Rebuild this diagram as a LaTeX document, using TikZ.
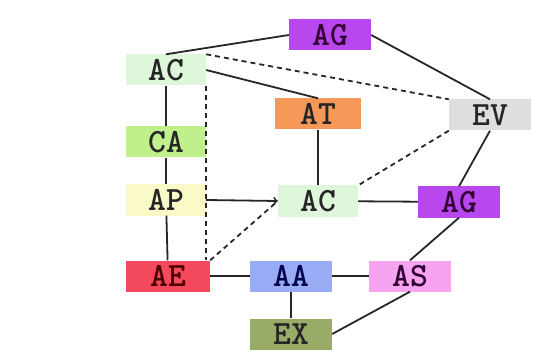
\documentclass[tikz,border=0pt]{standalone}
\usepackage{fontspec}
\setmainfont{Liberation Serif}
\usepackage{tikz}
\usetikzlibrary{positioning}

\definecolor{cViolet}{RGB}{184,72,238}
\definecolor{cPaleGreen}{RGB}{222,246,218}
\definecolor{cOrange}{RGB}{246,152,88}
\definecolor{cGrey}{RGB}{222,222,222}
\definecolor{cLime}{RGB}{192,240,140}
\definecolor{cCream}{RGB}{250,250,200}
\definecolor{cRed}{RGB}{244,72,92}
\definecolor{cBlue}{RGB}{152,172,246}
\definecolor{cPink}{RGB}{246,164,240}
\definecolor{cOlive}{RGB}{152,172,104}

\begin{document}
\begin{tikzpicture}[
    x=1pt, y=-1pt,
    font=\ttfamily\bfseries\fontsize{34}{34}\selectfont
]
\tikzset{
    box/.style = {rectangle, inner sep=0pt, minimum width=82pt, minimum height=31pt, text=black!85},
    link/.style = {-, line width=1.8pt, black!85},
    dlink/.style = {-, line width=1.8pt, black!85, dash pattern=on 5pt off 4pt},
    alink/.style = {->, line width=1.8pt, black!85}
}
\useasboundingbox (0,0) rectangle (551,358);
\node[box, fill=cViolet, text=violet!40!black] at (330,35) (agTop) {AG};
\node[box, fill=cPaleGreen, minimum width=80pt] at (166,70) (acTop) {AC};
\node[box, fill=cOrange, minimum width=86pt] at (318,114) (at) {AT};
\node[box, fill=cGrey] at (490,115) (ev) {EV};
\node[box, fill=cLime, minimum width=80pt] at (166,142) (ca) {CA};
\node[box, fill=cCream, minimum width=80pt] at (166,200) (ap) {AP};
\node[box, fill=cPaleGreen, minimum width=80pt] at (318,201) (acMid) {AC};
\node[box, fill=cViolet, text=violet!40!black] at (459,202) (agMid) {AG};
\node[box, fill=cRed, text=red!30!black, minimum width=84pt] at (168,276) (ae) {AE};
\node[box, fill=cBlue, text=blue!30!black] at (291,276) (aa) {AA};
\node[box, fill=cPink, text=violet!40!black] at (410,276) (as) {AS};
\node[box, fill=cOlive] at (291,334) (ex) {EX};
\draw[link] (acTop.north) -- (agTop.west);
\draw[link] (agTop.east) -- (ev.north);
\draw[dlink] (acTop.north east) -- (ev.north west);
\draw[link] (acTop.east) -- (at.north);
\draw[dlink] (acTop.south east) -- (acTop.south east |- ae.north);
\draw[link] (acTop) -- (ca);
\draw[link] (ca) -- (ap);
\draw[link] (ap) -- (ae);
\draw[alink] (ap.east) -- (acMid.west);
\draw[dlink] (ae.north east) -- (acMid.west);
\draw[link] (at) -- (acMid);
\draw[dlink] (ev.south west) -- (acMid.north east);
\draw[link] (ev.south) -- (agMid.north);
\draw[link] (acMid) -- (agMid);
\draw[link] (agMid.south) -- (as.north);
\draw[link] (ae) -- (aa);
\draw[link] (aa) -- (as);
\draw[link] (aa) -- (ex);
\draw[link] (as.south) -- (ex.east);
\end{tikzpicture}
\end{document}
